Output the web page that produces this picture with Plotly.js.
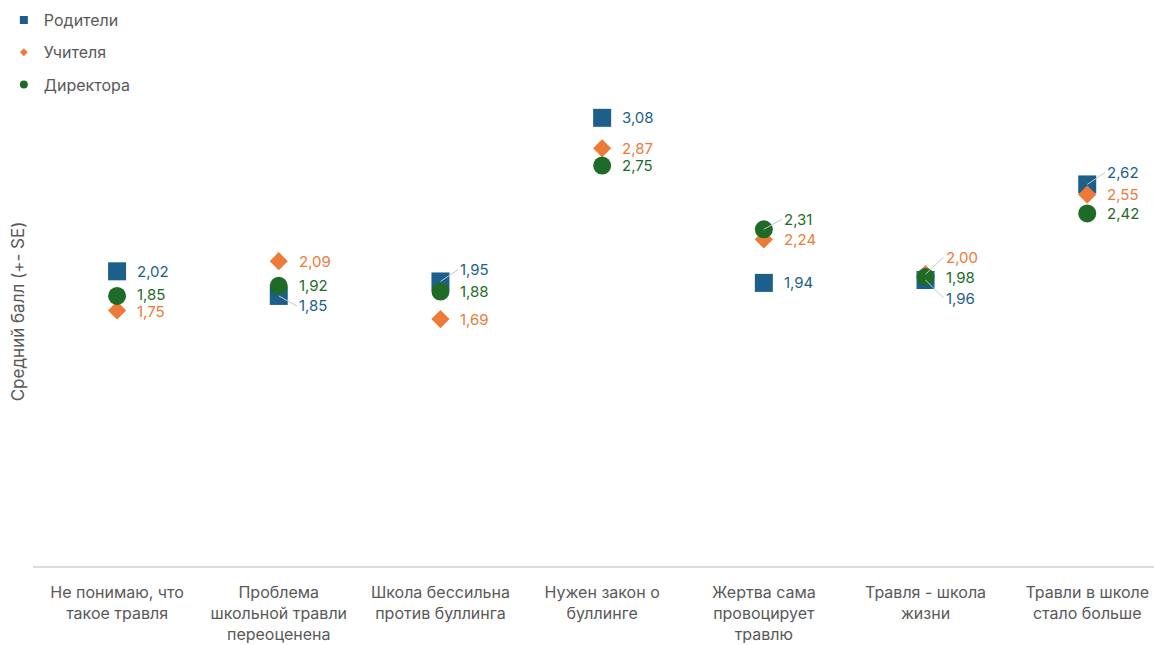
<!DOCTYPE html>
<html>
<head>
<meta charset="utf-8">
<script src="https://cdn.plot.ly/plotly-3.0.1.min.js"></script>
<style>
  html, body { margin: 0; padding: 0; background: #ffffff; }
  #chart { width: 1154px; height: 645px; }
</style>
</head>
<body>
<div id="chart"></div>
<script>
// Statements about school bullying
const categories = [
  "Не понимаю, что<br>такое травля",
  "Проблема<br>школьной травли<br>переоценена",
  "Школа бессильна<br>против буллинга",
  "Нужен закон о<br>буллинге",
  "Жертва сама<br>провоцирует<br>травлю",
  "Травля - школа<br>жизни",
  "Травли в школе<br>стало больше"
];

// Mean scores by respondent group
const seriesNames = ["Родители", "Учителя", "Директора"];
const parents   = [2.02, 1.85, 1.95, 3.08, 1.94, 1.96, 2.62];
const teachers  = [1.75, 2.09, 1.69, 2.87, 2.24, 2.00, 2.55];
const directors = [1.85, 1.92, 1.88, 2.75, 2.31, 1.98, 2.42];

// Appearance of each group
const colors  = ["#1c5f8b", "#ee7a38", "#1e6b27"];
const symbols = ["square", "diamond", "circle"];
const sizes   = [18, 14, 18];

// Vertical nudges (px, down is positive) for value labels that would collide;
// the larger ones get a leader line back to their marker
const labelNudge = [
  [0, 10, -12, 0, 0, 18, -12],
  [1, 0, 0, 0, 0, -17, 0],
  [-1, 0, 0, 0, -10, 0, 0]
];

const allSeries = [parents, teachers, directors];
const fmt = v => v.toFixed(2).replace(".", ",");
const labelFont = c => ({ family: "Inter, Roboto, sans-serif", size: 15, color: c });

const traces = [];
allSeries.forEach((vals, s) => {
  traces.push({
    type: "scatter",
    mode: "markers",
    x: categories,
    y: vals,
    name: seriesNames[s],
    showlegend: false,
    hoverinfo: "x+y",
    marker: { symbol: symbols[s], size: sizes[s], color: colors[s], line: { width: 0 } },
    cliponaxis: false
  });
});
// Legend entries with compact glyphs
allSeries.forEach((vals, s) => {
  traces.push({
    type: "scatter",
    mode: "markers",
    x: [null],
    y: [null],
    name: seriesNames[s],
    legendgroup: "g" + s,
    showlegend: true,
    marker: { symbol: symbols[s], size: s === 1 ? 6 : 8, color: colors[s] }
  });
});

const annotations = [];
allSeries.forEach((vals, s) => {
  vals.forEach((v, i) => {
    const dy = labelNudge[s][i];
    if (Math.abs(dy) < 5) {
      annotations.push({
        x: categories[i], y: v, xref: "x", yref: "y",
        text: fmt(v), showarrow: false,
        xanchor: "left", yanchor: "middle", xshift: 18, yshift: -dy,
        font: labelFont(colors[s])
      });
    } else {
      annotations.push({
        x: categories[i], y: v, xref: "x", yref: "y",
        text: fmt(v), showarrow: true,
        arrowhead: 0, arrowwidth: 1, arrowcolor: "#c8c8c8", standoff: 0,
        ax: 18, ay: dy, axref: "pixel", ayref: "pixel",
        xanchor: "left", yanchor: "middle",
        font: labelFont(colors[s])
      });
    }
  });
});

const layout = {
  width: 1154,
  height: 645,
  margin: { l: 33, r: 0, t: 57, b: 79 },
  paper_bgcolor: "#ffffff",
  plot_bgcolor: "#ffffff",
  font: { family: "Inter, Roboto, sans-serif", size: 15, color: "#595959" },
  showlegend: true,
  legend: {
    x: -0.026, xanchor: "left",
    y: 1.106, yanchor: "top",
    orientation: "v",
    tracegroupgap: 8.5,
    itemwidth: 30,
    font: { size: 16, color: "#595959" },
    bgcolor: "rgba(0,0,0,0)"
  },
  xaxis: {
    type: "category",
    range: [-0.52, 6.413],
    showgrid: false,
    zeroline: false,
    showline: true,
    linecolor: "#dcdcdc",
    linewidth: 2,
    ticks: "",
    ticklabelstandoff: 11,
    tickfont: { size: 16, color: "#595959" },
    automargin: false
  },
  yaxis: {
    range: [-0.015, 3.5],
    showgrid: false,
    zeroline: false,
    showline: false,
    showticklabels: false,
    ticks: "",
    automargin: false,
    title: { text: "Средний балл (+- SE)", font: { size: 17, color: "#595959" }, standoff: 3 }
  },
  annotations: annotations,
  hovermode: "closest"
};

Plotly.newPlot("chart", traces, layout, { displayModeBar: false, responsive: false });
</script>
</body>
</html>
